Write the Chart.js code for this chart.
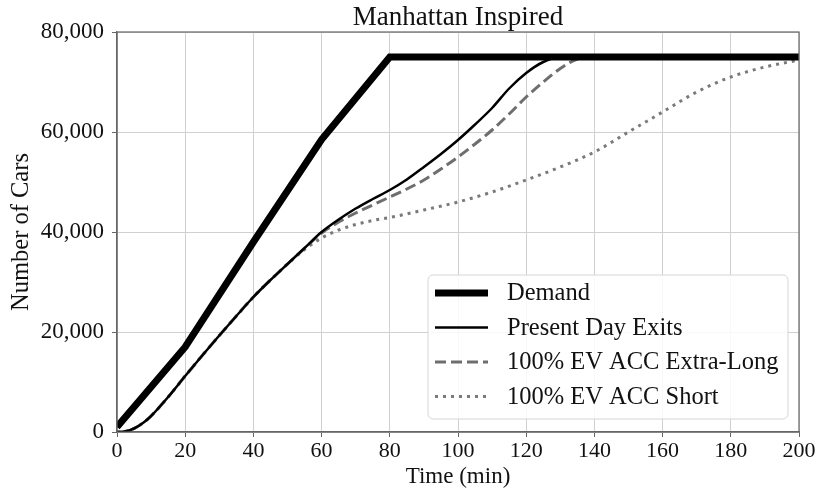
<!DOCTYPE html>
<html>
<head>
<meta charset="utf-8">
<script src="https://cdn.jsdelivr.net/npm/chart.js@4.4.1/dist/chart.umd.min.js"></script>
<style>
  html, body { margin: 0; padding: 0; background: #fff; }
  #wrap { width: 821px; height: 492px; }
</style>
</head>
<body>
<div id="wrap"><canvas id="chart" width="821" height="492"></canvas></div>
<script>
// ── data ──
const demandTime = [0, 20, 40, 60, 80, 200];
const demandCars = [1000, 17000, 38000, 58500, 75000, 75000];

const presentTime = [0, 2, 5, 8, 10, 15, 20, 25, 30, 35, 40, 45, 50, 55, 60, 65, 70, 75, 80, 85, 90, 95, 100, 105, 110, 115, 120, 125, 130, 140, 200];
const presentCars = [0, 50, 700, 2000, 3200, 7000, 11200, 15300, 19300, 23200, 27000, 30400, 33600, 36800, 40000, 42500, 44700, 46600, 48400, 50500, 53000, 55600, 58400, 61500, 64800, 68700, 71800, 74000, 75000, 75000, 75000];

const extraLongTime = [0, 2, 5, 8, 10, 15, 20, 25, 30, 35, 40, 45, 50, 55, 60, 65, 70, 75, 80, 85, 90, 95, 100, 105, 110, 115, 120, 125, 130, 135, 140, 200];
const extraLongCars = [0, 50, 700, 2000, 3200, 7000, 11200, 15300, 19300, 23200, 27000, 30400, 33600, 36700, 39800, 42000, 43800, 45400, 47000, 48600, 50400, 52600, 55000, 57600, 60400, 63600, 67000, 70000, 72700, 74600, 75000, 75000];

const shortTime = [0, 2, 5, 8, 10, 15, 20, 25, 30, 35, 40, 45, 50, 55, 60, 65, 70, 75, 80, 90, 100, 110, 120, 130, 140, 150, 160, 170, 180, 190, 200];
const shortCars = [0, 50, 700, 2000, 3200, 7000, 11200, 15300, 19300, 23200, 27000, 30400, 33600, 36500, 38800, 40400, 41500, 42300, 42900, 44400, 46000, 48000, 50400, 53000, 56000, 60000, 64000, 68000, 71000, 73000, 74400];

const seriesLabels = ['Demand', 'Present Day Exits', '100% EV ACC Extra-Long', '100% EV ACC Short'];
const xTicks = [0, 20, 40, 60, 80, 100, 120, 140, 160, 180, 200];
const yTicks = [0, 20000, 40000, 60000, 80000];

const FONT = "'Liberation Serif', 'Times New Roman', serif";
const pts = (xs, ys) => xs.map((x, i) => ({ x, y: ys[i] }));

// title, y label, full frame and the in-plot legend (matplotlib style)
const decor = {
  id: 'decor',
  afterDraw(chart) {
    const { ctx, chartArea: a } = chart;
    ctx.save();
    // frame
    ctx.strokeStyle = '#666';
    ctx.lineWidth = 1.2;
    ctx.strokeRect(a.left, a.top, a.right - a.left, a.bottom - a.top);

    // title
    ctx.fillStyle = '#111';
    ctx.font = '27px ' + FONT;
    ctx.textAlign = 'center';
    ctx.textBaseline = 'alphabetic';
    ctx.fillText('Manhattan Inspired', (a.left + a.right) / 2, a.top - 7);

    // y axis label
    ctx.save();
    ctx.translate(22, (a.top + a.bottom) / 2);
    ctx.rotate(-Math.PI / 2);
    ctx.font = '24.5px ' + FONT;
    ctx.textBaseline = 'middle';
    ctx.fillText('Number of Cars', 0, 0);
    ctx.restore();

    // legend box
    const w = 360, h = 144;
    const lx = a.right - 11 - w, ly = a.bottom - 13 - h;
    ctx.beginPath();
    ctx.roundRect(lx, ly, w, h, 5);
    ctx.fillStyle = 'rgba(255,255,255,0.85)';
    ctx.fill();
    ctx.strokeStyle = '#d6d6d6';
    ctx.lineWidth = 1;
    ctx.stroke();

    ctx.font = '24.5px ' + FONT;
    ctx.textAlign = 'left';
    ctx.textBaseline = 'middle';
    chart.data.datasets.forEach((ds, i) => {
      const y = ly + 18 + i * 34.5;
      ctx.beginPath();
      ctx.strokeStyle = ds.borderColor;
      ctx.lineWidth = ds.borderWidth;
      ctx.setLineDash(ds.borderDash || []);
      ctx.lineCap = 'butt';
      ctx.moveTo(lx + 7, y);
      ctx.lineTo(lx + 60, y);
      ctx.stroke();
      ctx.setLineDash([]);
      ctx.fillStyle = '#111';
      ctx.fillText(ds.label, lx + 79, y + 1);
    });
    ctx.restore();
  }
};

new Chart(document.getElementById('chart').getContext('2d'), {
  type: 'line',
  data: {
    datasets: [
      { label: seriesLabels[0], data: pts(demandTime, demandCars), borderColor: '#000', borderWidth: 7, tension: 0 },
      { label: seriesLabels[1], data: pts(presentTime, presentCars), borderColor: '#000', borderWidth: 2.5, cubicInterpolationMode: 'monotone' },
      { label: seriesLabels[2], data: pts(extraLongTime, extraLongCars), borderColor: '#6e6e6e', borderWidth: 3, borderDash: [11, 5], cubicInterpolationMode: 'monotone' },
      { label: seriesLabels[3], data: pts(shortTime, shortCars), borderColor: '#7a7a7a', borderWidth: 3, borderDash: [3, 5], cubicInterpolationMode: 'monotone' }
    ]
  },
  options: {
    responsive: false,
    animation: false,
    layout: { padding: { top: 32, right: 22, left: 0, bottom: 0 } },
    elements: { point: { radius: 0 }, line: { borderCapStyle: 'butt', borderJoinStyle: 'miter' } },
    plugins: { legend: { display: false }, tooltip: { enabled: false }, title: { display: false } },
    scales: {
      x: {
        type: 'linear', min: 0, max: 200,
        afterBuildTicks: s => { s.ticks = xTicks.map(v => ({ value: v })); },
        afterFit: s => { s.height = 60; },
        grid: { color: '#d0d0d0', lineWidth: 1, tickLength: 5, tickColor: '#666' },
        border: { color: '#666', width: 1.2 },
        ticks: { color: '#111', font: { family: FONT, size: 22 }, padding: 1, maxRotation: 0 },
        title: { display: true, text: 'Time (min)', color: '#111', font: { family: FONT, size: 23 }, padding: { top: 0, bottom: 1 } }
      },
      y: {
        min: 0, max: 80000,
        afterBuildTicks: s => { s.ticks = yTicks.map(v => ({ value: v })); },
        afterFit: s => { s.width = 117; },
        grid: { color: '#d0d0d0', lineWidth: 1, tickLength: 5, tickColor: '#666' },
        border: { color: '#666', width: 1.2 },
        ticks: { color: '#111', font: { family: FONT, size: 23 }, padding: 8, callback: v => v.toLocaleString('en-US') }
      }
    }
  },
  plugins: [decor]
});
</script>
</body>
</html>
